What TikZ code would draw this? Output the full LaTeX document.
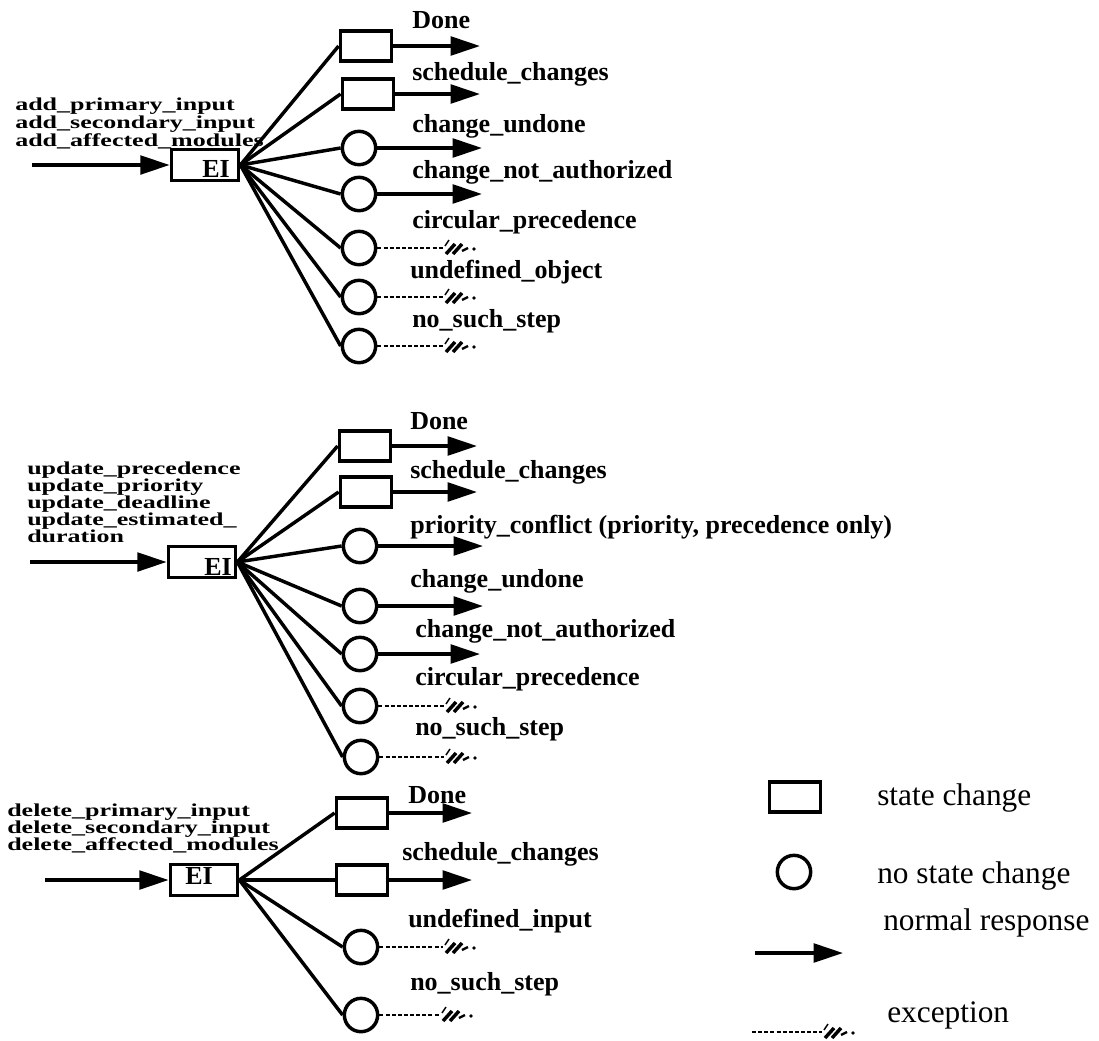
\documentclass[tikz,border=0pt]{standalone}
\usepackage{graphicx}
\usepackage{fontspec}
\setmainfont{Liberation Serif}
\usetikzlibrary{arrows.meta}

\newcommand\squash[1]{\scalebox{1}[0.7]{#1}}
\newcommand\exmark[1]{%
  \draw [hatch, line width=1.1pt] (#1) ++(2,-2) -- ++(4,-6);
  \draw [hatch] (#1) ++(3,6) -- ++(9,-10);
  \draw [hatch] (#1) ++(10,6) -- ++(9,-10);
  \draw [hatch, line width=1.8pt] (#1) ++(19,3) -- ++(6,-3);
  \fill (#1) ++(31,1) circle (1.8);
}

\begin{document}
\begin{tikzpicture}[x=0.75pt,y=0.75pt,yscale=-1,xscale=1,
  stbox/.style={draw, line width=2.6pt, minimum width=38.5pt, minimum height=22.5pt, inner sep=0pt},
  nobox/.style={draw, circle, line width=2.6pt, minimum size=25pt, inner sep=0pt},
  eibox/.style={draw, line width=2.6pt, minimum width=50.5pt, minimum height=23pt, inner sep=0pt},
  fan/.style={line width=2.6pt},
  normal/.style={line width=2.6pt, -{Triangle[length=22pt,width=14pt]}},
  exline/.style={line width=1.5pt, dash pattern=on 3pt off 1.6pt},
  hatch/.style={solid, line width=2.6pt},
  lbl/.style={font=\fontsize{19.5}{19.5}\selectfont\bfseries, anchor=base west, inner sep=0pt},
  inlbl/.style={font=\fontsize{19.5}{19.5}\selectfont\bfseries, anchor=base west, inner sep=0pt},
  key/.style={font=\fontsize{23.5}{23.5}\selectfont, anchor=base west, inner sep=0pt}
]
\useasboundingbox (0,0) rectangle (1099,1040);

% ---- add ----
\draw (15,110) node (inA1) [inlbl] {\squash{add\_primary\_input}};
\draw (15,128) node (inA2) [inlbl] {\squash{add\_secondary\_input}};
\draw (15,146) node (inA3) [inlbl] {\squash{add\_affected\_modules}};
\node (ei1) [eibox] at (205,165) {};
\node (ei1t) [lbl, anchor=base east] at (230,177) {EI};
\coordinate (s1) at (32,165);
\draw [normal] (s1) -- (ei1.west);

\node (b11) [stbox] at (366,46) {};
\node (b12) [stbox] at (368,94) {};
\node (c13) [nobox] at (359,148) {};
\node (c14) [nobox] at (359,194) {};
\node (c15) [nobox] at (359,248) {};
\node (c16) [nobox] at (359,297) {};
\node (c17) [nobox] at (359,346) {};

\draw [fan] (ei1.east) -- (b11.west);
\draw [fan] (ei1.east) -- (b12.west);
\draw [fan] (ei1.east) -- (c13.west);
\draw [fan] (ei1.east) -- (c14.west);
\draw [fan] (ei1.east) -- (c15.west);
\draw [fan] (ei1.east) -- (c16.west);
\draw [fan] (ei1.east) -- (c17.west);

\coordinate (t11) at (480,46);
\coordinate (t12) at (480,94);
\coordinate (t13) at (482,148);
\coordinate (t14) at (482,194);
\coordinate (e15) at (443,248);
\coordinate (e16) at (443,297);
\coordinate (e17) at (443,346);
\draw [normal] (b11.east) -- (t11);
\draw [normal] (b12.east) -- (t12);
\draw [normal] (c13.east) -- (t13);
\draw [normal] (c14.east) -- (t14);
\draw [exline] (c15.east) -- (e15);
\draw [exline] (c16.east) -- (e16);
\draw [exline] (c17.east) -- (e17);
\exmark{e15}
\exmark{e16}
\exmark{e17}

\draw (412,28) node (l11) [lbl] {Done};
\draw (412,80) node (l12) [lbl] {schedule\_changes};
\draw (412,132) node (l13) [lbl] {change\_undone};
\draw (412,178) node (l14) [lbl] {change\_not\_authorized};
\draw (412,228) node (l15) [lbl] {circular\_precedence};
\draw (410,278) node (l16) [lbl] {undefined\_object};
\draw (412,327) node (l17) [lbl] {no\_such\_step};

% ---- update ----
\draw (27,474) node (inB1) [inlbl] {\squash{update\_precedence}}; 
\draw (27,491) node (inB2) [inlbl] {\squash{update\_priority}};
\draw (27,508) node (inB3) [inlbl] {\squash{update\_deadline}};
\draw (27,525) node (inB4) [inlbl] {\squash{update\_estimated\_}};
\draw (27,542) node (inB5) [inlbl] {\squash{duration}};
\node (ei2) [eibox] at (202,562) {};
\node (ei2t) [lbl, anchor=base east] at (232,575) {EI};
\coordinate (s2) at (30,562);
\draw [normal] (s2) -- (ei2.west);

\node (b21) [stbox] at (365,446) {};
\node (b22) [stbox] at (366,492) {};
\node (c23) [nobox] at (360,546) {};
\node (c24) [nobox] at (360,606) {};
\node (c25) [nobox] at (360,654) {};
\node (c26) [nobox] at (360,706) {};
\node (c27) [nobox] at (361,757) {};

\draw [fan] (ei2.east) -- (b21.west);
\draw [fan] (ei2.east) -- (b22.west);
\draw [fan] (ei2.east) -- (c23.west);
\draw [fan] (ei2.east) -- (c24.west);
\draw [fan] (ei2.east) -- (c25.west);
\draw [fan] (ei2.east) -- (c26.west);
\draw [fan] (ei2.east) -- (c27.west);

\coordinate (t21) at (477,446);
\coordinate (t22) at (477,492);
\coordinate (t23) at (483,546);
\coordinate (t24) at (483,606);
\coordinate (t25) at (480,654);
\coordinate (e26) at (444,706);
\coordinate (e27) at (444,757);
\draw [normal] (b21.east) -- (t21);
\draw [normal] (b22.east) -- (t22);
\draw [normal] (c23.east) -- (t23);
\draw [normal] (c24.east) -- (t24);
\draw [normal] (c25.east) -- (t25);
\draw [exline] (c26.east) -- (e26);
\draw [exline] (c27.east) -- (e27);
\exmark{e26}
\exmark{e27}

\draw (410,429) node (l21) [lbl] {Done};
\draw (410,478) node (l22) [lbl] {schedule\_changes};
\draw (410,533) node (l23) [lbl] {priority\_conflict (priority, precedence only)};
\draw (410,587) node (l24) [lbl] {change\_undone};
\draw (415,637) node (l25) [lbl] {change\_not\_authorized};
\draw (415,685) node (l26) [lbl] {circular\_precedence};
\draw (415,735) node (l27) [lbl] {no\_such\_step};

% ---- delete ----
\draw (7,816) node (inC1) [inlbl] {\squash{delete\_primary\_input}};
\draw (7,833) node (inC2) [inlbl] {\squash{delete\_secondary\_input}};
\draw (7,850) node (inC3) [inlbl] {\squash{delete\_affected\_modules}};
\node (ei3) [eibox] at (204,880) {};
\node (ei3t) [lbl, anchor=base] at (199,884) {EI};
\coordinate (s3) at (45,880);
\draw [normal] (s3) -- (ei3.west);

\node (b31) [stbox] at (362,813) {};
\node (b32) [stbox] at (362,880) {};
\node (c33) [nobox] at (361,947) {};
\node (c34) [nobox] at (361,1015) {};

\draw [fan] (ei3.east) -- (b31.west);
\draw [fan] (ei3.east) -- (b32.west);
\draw [fan] (ei3.east) -- (c33.west);
\draw [fan] (ei3.east) -- (c34.west);

\coordinate (t31) at (472,813);
\coordinate (t32) at (472,880);
\coordinate (e33) at (443,947);
\coordinate (e34) at (440,1015);
\draw [normal] (b31.east) -- (t31);
\draw [normal] (b32.east) -- (t32);
\draw [exline] (c33.east) -- (e33);
\draw [exline] (c34.east) -- (e34);
\exmark{e33}
\exmark{e34}

\draw (408,803) node (l31) [lbl] {Done};
\draw (402,860) node (l32) [lbl] {schedule\_changes};
\draw (408,927) node (l33) [lbl] {undefined\_input};
\draw (410,990) node (l34) [lbl] {no\_such\_step};

% ---- legend ----
\node (kb) [stbox] at (795,797) {};
\node (kc) [nobox] at (794,872) {};
\coordinate (kn0) at (755,953);
\coordinate (kn1) at (843,953);
\draw [normal] (kn0) -- (kn1);
\coordinate (kx0) at (752,1032);
\coordinate (kx1) at (822,1032);
\draw [exline] (kx0) -- (kx1);
\exmark{kx1}

\draw (877,805) node (kbt) [key] {state change};
\draw (877,883) node (kct) [key] {no state change};
\draw (883,930) node (knt) [key] {normal response};
\draw (887,1022) node (kxt) [key] {exception};

\end{tikzpicture}
\end{document}
